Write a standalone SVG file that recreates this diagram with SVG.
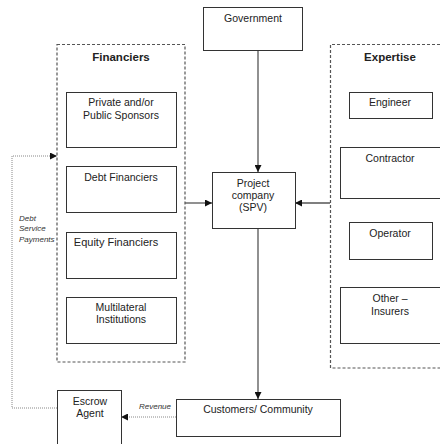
<svg xmlns="http://www.w3.org/2000/svg" width="440" height="444" viewBox="0 0 440 444">
  <defs>
    <marker id="arrow" viewBox="0 0 8 8" refX="8" refY="4" markerWidth="7" markerHeight="7" markerUnits="userSpaceOnUse" orient="auto">
      <path d="M0,0 L8,4 L0,8 Z" fill="#111"/>
    </marker>
  </defs>
  <style>
    text { font-family: "Liberation Sans", Arial, sans-serif; font-size: 10.5px; fill: #222; text-anchor: middle; }
    .title { font-weight: bold; font-size: 11.5px; }
    .lbl { font-style: italic; font-size: 8px; fill: #333; }
    .box { fill: #fff; stroke: #333; stroke-width: 1; }
    .group { fill: none; stroke: #555; stroke-width: 1.2; stroke-dasharray: 3 2; }
    .link { fill: none; stroke: #555; stroke-width: 1.3; }
    .dot { fill: none; stroke: #888; stroke-width: 1; stroke-dasharray: 1 1; }
  </style>
  <rect width="440" height="444" fill="#fff"/>

  <!-- containers -->
  <g id="financiers">
    <rect class="group" x="57" y="44.5" width="128" height="317.5"/>
    <text class="title" x="121" y="61">Financiers</text>
  </g>
  <g id="expertise">
    <path class="group" d="M440,44.5 H330.5 V368 H440"/>
    <text class="title" x="390" y="61">Expertise</text>
  </g>

  <!-- connectors -->
  <g id="connectors">
    <line class="link" x1="258" y1="50" x2="258" y2="172" marker-end="url(#arrow)"/>
    <line class="link" x1="185" y1="203" x2="212" y2="203" marker-end="url(#arrow)"/>
    <line class="link" x1="330" y1="203" x2="295" y2="203" marker-end="url(#arrow)"/>
    <line class="link" x1="258" y1="228" x2="258" y2="399" marker-end="url(#arrow)"/>
    <line class="dot" x1="176" y1="417" x2="121" y2="417" marker-end="url(#arrow)"/>
    <polyline class="dot" points="57,408 12,408 12,156 57,156" marker-end="url(#arrow)"/>
    <text class="lbl" x="155" y="409">Revenue</text>
    <text class="lbl" x="19" y="221" style="text-anchor:start">Debt</text>
    <text class="lbl" x="19" y="231" style="text-anchor:start">Service</text>
    <text class="lbl" x="19" y="242" style="text-anchor:start">Payments</text>
  </g>

  <!-- nodes -->
  <g id="government">
    <rect class="box" x="203.5" y="7.5" width="99" height="43"/>
    <text x="253" y="22">Government</text>
  </g>
  <g id="sponsors">
    <rect class="box" x="66.5" y="92.5" width="110" height="55"/>
    <text x="121" y="106">Private and/or</text>
    <text x="121" y="119">Public Sponsors</text>
  </g>
  <g id="debt-financiers">
    <rect class="box" x="66.5" y="166.5" width="110" height="46"/>
    <text x="121" y="181">Debt Financiers</text>
  </g>
  <g id="equity-financiers">
    <rect class="box" x="66.5" y="232.5" width="110" height="46"/>
    <text x="116" y="246" style="font-size:11px">Equity Financiers</text>
  </g>
  <g id="multilateral">
    <rect class="box" x="66.5" y="297.5" width="110" height="46"/>
    <text x="121" y="311">Multilateral</text>
    <text x="121" y="323">Institutions</text>
  </g>
  <g id="engineer">
    <rect class="box" x="349.5" y="92.5" width="83" height="26"/>
    <text x="390" y="106">Engineer</text>
  </g>
  <g id="contractor">
    <rect class="box" x="340.5" y="147.5" width="101" height="51"/>
    <text x="390" y="162">Contractor</text>
  </g>
  <g id="operator">
    <rect class="box" x="349.5" y="222.5" width="83" height="37"/>
    <text x="390" y="237">Operator</text>
  </g>
  <g id="other-insurers">
    <rect class="box" x="340.5" y="287.5" width="101" height="56"/>
    <text x="390" y="302">Other –</text>
    <text x="390" y="315">Insurers</text>
  </g>
  <g id="project-company">
    <rect class="box" x="212.5" y="172.5" width="83" height="56"/>
    <text x="253" y="187">Project</text>
    <text x="253" y="199">company</text>
    <text x="253" y="211">(SPV)</text>
  </g>
  <g id="customers">
    <rect class="box" x="176.5" y="399.5" width="164" height="37"/>
    <text x="258" y="413">Customers/ Community</text>
  </g>
  <g id="escrow-agent">
    <rect class="box" x="57.5" y="390.5" width="64" height="60"/>
    <text x="90" y="405">Escrow</text>
    <text x="90" y="417">Agent</text>
  </g>
</svg>
